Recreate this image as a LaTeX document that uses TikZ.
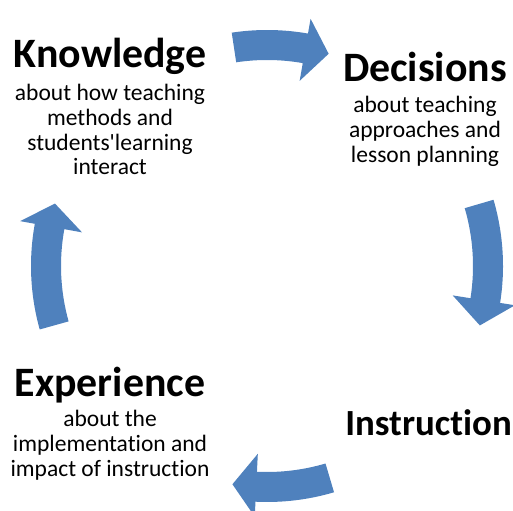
\documentclass[tikz,border=0pt]{standalone}
\usepackage{fontspec}
\setmainfont{Carlito}[Ligatures=NoCommon]
\usetikzlibrary{positioning}
\definecolor{cycleblue}{HTML}{4F81BD}

\tikzset{
  head/.style={inner sep=0pt, text depth=0pt, font=\fontsize{42}{50}\selectfont\bfseries},
  body/.style={inner sep=0pt, align=center, font=\fontsize{23.6}{25}\selectfont},
  cyclearrow/.style={fill=cycleblue, draw=none}
}

\begin{document}
\begin{tikzpicture}[x=1bp, y=1bp]
      \useasboundingbox (0,0) rectangle (513,511);

      \node[head, anchor=base] (knowledge) at (110, 443.5) {Knowledge};
      \node[head, anchor=base] (decisions) at (425, 429) {Decisions};
      \node[head, anchor=base, font=\fontsize{37}{44}\selectfont\bfseries] (instruction) at (428.5, 75) {Instruction};
      \node[head, anchor=base] (experience) at (110, 114) {Experience};

      % texte
      \node[body] (knowledgeText) [below = 16bp of knowledge] {about how teaching\\methods and\\students\textquotesingle learning\\interact};
      \node[body] (decisionsText) [below = 14bp of decisions] {about teaching\\approaches and\\lesson planning};
      \node[body] (experienceText) [below = 12.5bp of experience] {about the\\implementation and\\impact of instruction};

      % pfeile
      \path[cyclearrow, shift={(267,245)}] (98.6:236bp) arc[start angle=98.6, end angle=80, radius=236bp]
        -- (80:251bp) -- (73.8:221bp) -- (80:188bp) -- (80:206bp) arc[start angle=80, end angle=98.6, radius=206bp] -- cycle;
      \path[cyclearrow, shift={(267,245)}] (16.3:236bp) arc[start angle=16.3, end angle=-9, radius=236bp]
        -- (-9:251bp) -- (-15.6:221bp) -- (-9:188bp) -- (-9:206bp) arc[start angle=-9, end angle=16.3, radius=206bp] -- cycle;
      \path[cyclearrow, shift={(267,245)}] (-73.5:236bp) arc[start angle=-73.5, end angle=-92.8, radius=236bp]
        -- (-92.8:251bp) -- (-99:221bp) -- (-92.8:188bp) -- (-92.8:206bp) arc[start angle=-92.8, end angle=-73.5, radius=206bp] -- cycle;
      \path[cyclearrow, shift={(267,245)}] (195.6:236bp) arc[start angle=195.6, end angle=169.7, radius=236bp]
        -- (169.7:251bp) -- (163.6:221bp) -- (169.7:188bp) -- (169.7:206bp) arc[start angle=169.7, end angle=195.6, radius=206bp] -- cycle;
    \end{tikzpicture}
\end{document}
